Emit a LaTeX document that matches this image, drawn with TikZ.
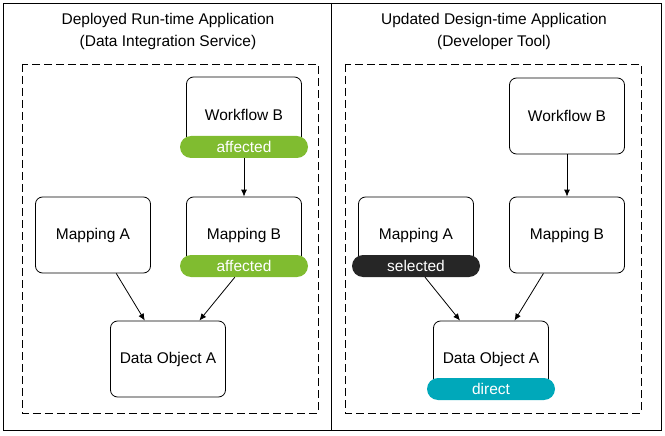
\documentclass[tikz,border=0pt]{standalone}
\usepackage{fontspec}
\setmainfont{Liberation Sans}
\usetikzlibrary{positioning}
\usetikzlibrary{arrows.meta}
\definecolor{pill-green}{RGB}{128, 188, 48}
\definecolor{pill-teal}{RGB}{0, 168, 186}
\definecolor{pill-black}{RGB}{38, 38, 38}
\tikzset{
  obj/.style={draw=black, line width=0.8pt, rounded corners=7pt, minimum width=115pt, minimum height=76pt, align=center, font=\fontsize{15.5}{18}\selectfont},
  tag/.style={fill=#1, text=white, rounded corners=11pt, minimum width=128pt, minimum height=22pt, inner sep=0pt, font=\fontsize{15.5}{18}\selectfont},
  link/.style={-{Latex[length=7pt, width=6pt]}, line width=0.8pt, draw=black}
}
\begin{document}
\begin{tikzpicture}[x=1pt, y=-1pt]
\useasboundingbox (0,0) rectangle (665,436);
\draw[line width=0.8pt] (3,3) rectangle (661,430);
\draw[line width=0.8pt] (331,3) -- (331,430);
\node[align=center, font=\fontsize{15.5}{22}\selectfont] (lhead) at (168,31) {Deployed Run-time Application\\(Data Integration Service)};
\node[align=center, font=\fontsize{15.5}{22}\selectfont] (rhead) at (494,31) {Updated Design-time Application\\(Developer Tool)};
\draw[line width=0.8pt, dash pattern=on 8pt off 4pt] (22,64) rectangle (318,413);
\draw[line width=0.8pt, dash pattern=on 8pt off 4pt] (345,64) rectangle (641,413);
% left side
\node[obj] (lwf) at (244,115) {Workflow B};
\node[tag=pill-green] (lwftag) at (244,147) {affected};
\node[obj] (lma) at (93,235) {Mapping A};
\node[obj] (lmb) at (244,235) {Mapping B};
\node[tag=pill-green] (lmbtag) at (244,266) {affected};
\node[obj] (ldo) at (168,359) {Data Object A};
\draw[link] (lwftag) -- (lmb);
\draw[link] (lma) -- (ldo);
\draw[link] (lmbtag) -- (ldo);
% right side
\node[obj] (rwf) at (567,116) {Workflow B};
\node[obj] (rma) at (416,235) {Mapping A};
\node[tag=pill-black] (rmatag) at (416,266) {selected};
\node[obj] (rmb) at (567,235) {Mapping B};
\node[obj] (rdo) at (491,359) {Data Object A};
\node[tag=pill-teal] (rdotag) at (491,389) {direct};
\draw[link] (rwf) -- (rmb);
\draw[link] (rmatag) -- (rdo);
\draw[link] (rmb) -- (rdo);
\end{tikzpicture}
\end{document}
